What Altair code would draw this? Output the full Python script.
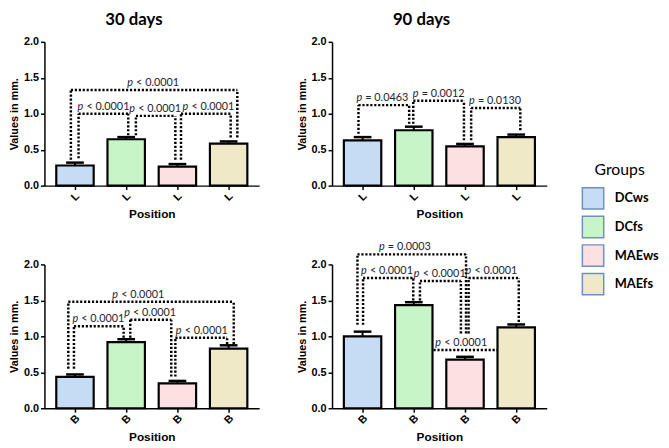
import altair as alt
import pandas as pd

# ---------------- data ----------------
groups = ["DCws", "DCfs", "MAEws", "MAEfs"]
colors = ["#c6dcf5", "#c8f5c8", "#fde0e1", "#efe9c8"]
slots = [0, 1, 2, 3]

# bar means and upper error (SEM) ends
mean_30_L = [0.28, 0.645, 0.265, 0.585]
err_30_L = [0.32, 0.675, 0.30, 0.615]
mean_90_L = [0.63, 0.77, 0.545, 0.675]
err_90_L = [0.675, 0.82, 0.58, 0.71]
mean_30_B = [0.435, 0.92, 0.345, 0.83]
err_30_B = [0.47, 0.96, 0.38, 0.875]
mean_90_B = [1.0, 1.435, 0.675, 1.125]
err_90_B = [1.065, 1.475, 0.715, 1.165]

# brackets: (left x, right x, top y, left leg bottom, right leg bottom, label, label x)
br_30_L = [
    (0.07, 1.04, 1.00, 0.38, 0.70, "< 0.0001", 0.55),
    (1.19, 1.96, 0.97, 0.70, 0.36, "< 0.0001", 1.56),
    (2.07, 3.04, 1.00, 0.36, 0.67, "< 0.0001", 2.60),
    (-0.08, 3.17, 1.33, 0.36, 0.67, "< 0.0001", 1.52),
]
br_90_L = [
    (-0.08, 0.91, 1.12, 0.72, 0.86, "= 0.0463", 0.38),
    (0.99, 1.98, 1.18, 0.86, 0.63, "= 0.0012", 1.48),
    (2.12, 3.08, 1.08, 0.63, 0.77, "= 0.0130", 2.58),
]
br_30_B = [
    (-0.02, 0.95, 1.14, 0.55, 0.98, "< 0.0001", 0.45),
    (1.08, 1.88, 1.23, 0.98, 0.44, "< 0.0001", 1.46),
    (1.96, 2.97, 0.98, 0.44, 0.89, "< 0.0001", 2.47),
    (-0.13, 3.10, 1.48, 0.55, 0.89, "< 0.0001", 1.23),
]
br_90_B = [
    (0.01, 0.99, 1.81, 1.16, 1.50, "< 0.0001", 0.47),
    (1.12, 1.92, 1.77, 1.50, 1.04, "< 0.0001", 1.50),
    (-0.10, 2.02, 2.14, 1.16, 1.04, "= 0.0003", 0.82),
    (2.07, 3.05, 1.81, 1.04, 1.20, "< 0.0001", 2.51),
]
# bracket drawn behind the bars (DCfs vs MAEfs)
back_90_B = [(1.0, 3.0, 0.81, 0.81, 0.81, "< 0.0001", 1.92)]

FONT_AX = "Liberation Sans"
FONT_P = "Lato"
P_COLOR = "#1e2233"


def make_axes(site):
    xa = alt.Axis(title="Position", values=[0, 1, 2, 3], labelExpr=f"'{site}'",
                  labelAngle=-45, labelAlign="center", labelBaseline="middle",
                  labelPadding=7, labelFont=FONT_AX, labelFontWeight="bold",
                  labelFontSize=11, labelColor="black", grid=False,
                  domainColor="black", domainWidth=1.5, tickColor="black",
                  tickWidth=1.5, tickSize=4, titleFont=FONT_AX,
                  titleFontWeight="bold", titleFontSize=12, titleColor="black",
                  titlePadding=6)
    ya = alt.Axis(title="Values in mm.", values=[0, 0.5, 1, 1.5, 2], format=".1f",
                  grid=False, domainColor="black", domainWidth=1.5,
                  tickColor="black", tickWidth=1.5, tickSize=4,
                  labelFont=FONT_AX, labelFontWeight="bold", labelFontSize=11,
                  labelColor="black", labelPadding=2, titleFont=FONT_AX,
                  titleFontWeight="bold", titleFontSize=11, titleColor="black",
                  titlePadding=4)
    return xa, ya


XS = alt.Scale(domain=[-0.5, 3.5], nice=False, zero=False)
YS = alt.Scale(domain=[0, 2], nice=False)


def segs(brackets):
    rows = []
    for xl, xr, yt, ybl, ybr, _, _ in brackets:
        rows.append(dict(x=xl, x2=xr, y=yt, y2=yt))
        if ybl < yt:
            rows.append(dict(x=xl, x2=xl, y=ybl, y2=yt))
        if ybr < yt:
            rows.append(dict(x=xr, x2=xr, y=ybr, y2=yt))
    return pd.DataFrame(rows)


def labs(brackets):
    return pd.DataFrame([dict(x=lx, y=yt, text=t, p="p")
                         for _, _, yt, _, _, t, lx in brackets])


def panel(means, errs, site, brackets, back=None, title=None):
    xa, ya = make_axes(site)
    bars_df = pd.DataFrame({"x": slots, "group": groups, "y": means, "y2": errs})
    layers = []

    def rule_layer(df):
        return alt.Chart(df).mark_rule(color="black", strokeWidth=2.5,
                                       strokeDash=[2.2, 1.8]).encode(
            x=alt.X("x:Q", scale=XS, axis=xa),
            x2="x2:Q",
            y=alt.Y("y:Q", scale=YS, axis=ya),
            y2="y2:Q")

    def text_layers(df):
        ital = alt.Chart(df).mark_text(baseline="bottom", align="left", dx=-26, dy=-2,
                                       font=FONT_P, fontSize=11, fontStyle="italic",
                                       color=P_COLOR).encode(
            x=alt.X("x:Q", scale=XS, axis=xa),
            y=alt.Y("y:Q", scale=YS, axis=ya),
            text="p:N")
        rest = alt.Chart(df).mark_text(baseline="bottom", align="left", dx=-17, dy=-2,
                                       font=FONT_P, fontSize=11,
                                       color=P_COLOR).encode(
            x=alt.X("x:Q", scale=XS, axis=xa),
            y=alt.Y("y:Q", scale=YS, axis=ya),
            text="text:N")
        return [ital, rest]

    if back:
        layers.append(rule_layer(segs(back)))
        layers += text_layers(labs(back))
    bars = alt.Chart(bars_df).mark_bar(size=38, stroke="black", strokeWidth=2.2,
                                       opacity=1).encode(
        x=alt.X("x:Q", scale=XS, axis=xa),
        y=alt.Y("y:Q", scale=YS, axis=ya),
        color=alt.Color("group:N", scale=alt.Scale(domain=groups, range=colors),
                        legend=alt.Legend(
                            title="Groups", orient="none", legendX=545, legendY=122,
                            titleFont=FONT_P, titleFontSize=16, titleFontWeight="normal",
                            titleColor="black", titleAnchor="middle", titlePadding=9,
                            labelFont=FONT_P, labelFontSize=13, labelFontWeight="bold",
                            labelColor="black", symbolType="square", symbolSize=470,
                            symbolStrokeColor="#6f8fc0", symbolStrokeWidth=1.5,
                            symbolOpacity=1, rowPadding=1, labelOffset=10)))
    err_line = alt.Chart(bars_df).mark_rule(color="black", strokeWidth=2).encode(
        x=alt.X("x:Q", scale=XS, axis=xa),
        y=alt.Y("y:Q", scale=YS, axis=ya),
        y2="y2:Q")
    err_cap = alt.Chart(bars_df).mark_tick(orient="horizontal", color="black",
                                           size=18, thickness=2.5, opacity=1).encode(
        x=alt.X("x:Q", scale=XS, axis=xa),
        y=alt.Y("y2:Q", scale=YS, axis=ya))
    layers += [bars, err_line, err_cap, rule_layer(segs(brackets))]
    layers += text_layers(labs(brackets))
    ch = alt.layer(*layers).properties(width=218, height=146)
    if title:
        ch = ch.properties(title=alt.TitleParams(title, font=FONT_P, fontSize=17,
                                                 fontWeight="bold", color="black",
                                                 anchor="middle", frame="bounds",
                                                 offset=7))
    return ch


p1 = panel(mean_30_L, err_30_L, "L", br_30_L, title="30 days")
p2 = panel(mean_90_L, err_90_L, "L", br_90_L, title="90 days")
p3 = panel(mean_30_B, err_30_B, "B", br_30_B)
p4 = panel(mean_90_B, err_90_B, "B", br_90_B, back=back_90_B)

chart = alt.concat(p1, p2, p3, p4, columns=2,
                   spacing={"row": 80, "column": 74},
                   bounds="flush").properties(
    padding={"left": 0, "top": 0, "right": 2, "bottom": 0}
).configure_view(stroke=None)

chart.save("out.html", embed_options={"renderer": "svg", "actions": False})
